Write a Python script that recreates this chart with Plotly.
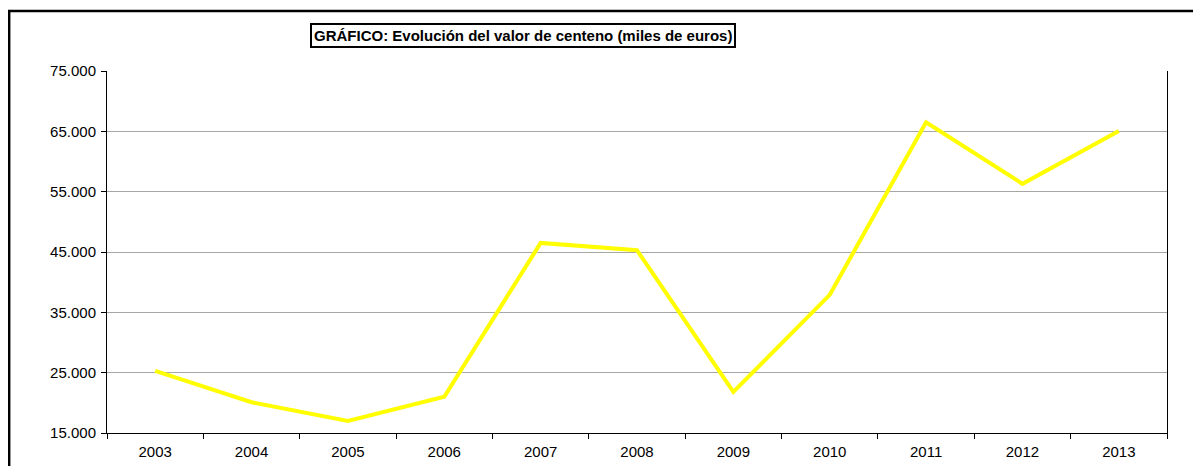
import plotly.graph_objects as go

# valores (miles de euros)
years = ['2003', '2004', '2005', '2006', '2007', '2008', '2009', '2010', '2011', '2012', '2013']
valor_centeno = [25300, 20100, 17000, 21000, 46500, 45300, 21800, 37900, 66500, 56300, 65050]

title_text = '<b>GRÁFICO: Evolución del valor de centeno (miles de euros)</b>'

fig = go.Figure()

fig.add_trace(go.Scatter(
    x=years, y=valor_centeno,
    mode='lines',
    line=dict(width=4, color='#FFFF00'),
    hoverinfo='x+y',
    showlegend=False
))

# ejes estilo Excel
fig.update_xaxes(type='category', range=[-0.5, 10.5], showline=True, linewidth=1, linecolor='black',
                 ticks='outside', ticklen=5, tickcolor='black', tickson='boundaries',
                 ticklabelstandoff=5, automargin=False,
                 showgrid=False, tickfont=dict(family='Liberation Sans, Arial', size=15, color='black'))
fig.update_yaxes(range=[15000, 75000], dtick=10000, tick0=15000, tickformat=',d',
                 showline=True, linewidth=1, linecolor='black', mirror=True, automargin=False,
                 ticks='outside', ticklen=5, tickcolor='black', ticklabelstandoff=2,
                 showgrid=True, gridcolor='#a6a6a6', gridwidth=1, zeroline=False,
                 tickfont=dict(family='Liberation Sans, Arial', size=15, color='black'))

# la pagina deja 8px de margen, por eso 1193x458
fig.update_layout(
    width=1193, height=458,
    margin=dict(l=99, r=34, t=63, b=33),
    plot_bgcolor='white', paper_bgcolor='white',
    separators=',.',
    font=dict(family='Liberation Sans, Arial', color='black'),
)

# titulo en recuadro
fig.add_annotation(text=title_text, xref='paper', yref='paper', x=0.3925, y=1.0994,
                   showarrow=False, xanchor='center', yanchor='middle',
                   font=dict(family='Liberation Sans, Arial', size=15, color='black'),
                   bordercolor='black', borderwidth=2, borderpad=2, bgcolor='white')

# borde del area del grafico
fig.add_shape(type='rect', xref='paper', yref='paper', x0=-0.0923, y0=-0.3, x1=1.2, y1=1.1657,
              line=dict(color='black', width=2.5), layer='below')

fig.write_html("out.html")
